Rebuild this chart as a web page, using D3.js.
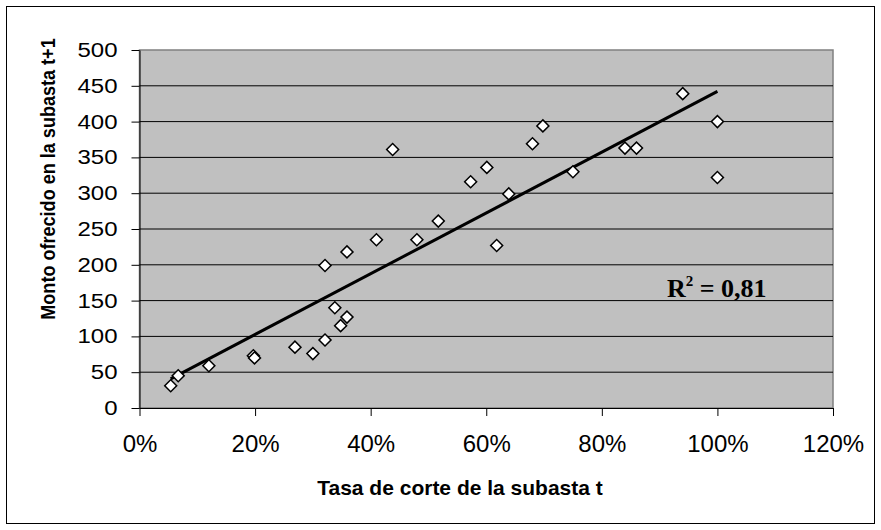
<!DOCTYPE html>
<html>
<head>
<meta charset="utf-8">
<script src="https://cdn.jsdelivr.net/npm/d3@7"></script>
<style>
  body { margin: 0; background: #fff; }
  text { font-family: Arial, "Liberation Sans", sans-serif; }
</style>
</head>
<body>
<svg id="chart" width="881" height="530"></svg>
<script>
// tasa de corte (t) vs monto ofrecido (t+1)
var tasa  = [0.054, 0.067, 0.12, 0.197, 0.199, 0.269, 0.30, 0.321, 0.348, 0.338, 0.359, 0.321, 0.359, 0.41, 0.438,
             0.48, 0.517, 0.573, 0.601, 0.618, 0.639, 0.68, 0.698, 0.75, 0.84, 0.86, 0.94, 1.0, 1.0];
var monto = [31, 45, 59, 73, 70, 85, 76, 95, 115, 140, 127, 199, 218, 235, 361,
             235, 261, 316, 336, 227, 299, 369, 394, 330, 363, 363, 439, 400, 322];
var xTicks = [0, 0.2, 0.4, 0.6, 0.8, 1.0, 1.2];
var yTicks = [0, 50, 100, 150, 200, 250, 300, 350, 400, 450, 500];
var r2Label = "0,81";

var data = tasa.map((t, i) => ({x: t, y: monto[i]}));

let svg = d3.select("#chart");

// outer frame
svg.append("rect")
  .attr("x", 6.5).attr("y", 6.5)
  .attr("width", 868).attr("height", 517)
  .attr("fill", "#fff")
  .attr("stroke", "#000")
  .attr("stroke-width", 1);

var xScale = d3.scaleLinear().domain([0, 1.2]).range([139.5, 833]);
var yScale = d3.scaleLinear().domain([0, 500]).range([408, 50]);

// plot area
svg.append("rect")
  .attr("x", xScale(0)).attr("y", yScale(500))
  .attr("width", xScale(1.2) - xScale(0))
  .attr("height", yScale(0) - yScale(500))
  .attr("fill", "#c0c0c0")
  .attr("stroke", "#808080")
  .attr("stroke-width", 1.5);

// gridlines
svg.append("g")
  .selectAll("line")
  .data(yTicks.filter(d => d > 0 && d < 500))
  .join("line")
  .attr("x1", xScale(0)).attr("x2", xScale(1.2))
  .attr("y1", d => yScale(d)).attr("y2", d => yScale(d))
  .attr("stroke", "#000")
  .attr("stroke-width", 1);

// axes
let xAxis = d3.axisBottom(xScale)
  .tickValues(xTicks)
  .tickFormat(d3.format(".0%"))
  .tickSizeInner(8).tickSizeOuter(0)
  .tickPadding(19);
let gx = svg.append("g")
  .attr("transform", `translate(0, ${yScale(0)})`)
  .call(xAxis);
gx.selectAll("text").style("font-size", "24px").attr("fill", "#000");
gx.selectAll("line, path").attr("stroke", "#000");

let yAxis = d3.axisLeft(yScale)
  .tickValues(yTicks)
  .tickSizeInner(8).tickSizeOuter(0)
  .tickPadding(14);
let gy = svg.append("g")
  .attr("transform", `translate(${xScale(0)}, 0)`)
  .call(yAxis);
gy.selectAll("text")
  .style("font-size", "24px")
  .attr("transform", "scale(1, 0.84)")
  .attr("fill", "#000");
gy.selectAll("line, path").attr("stroke", "#000");

// trend line (least squares)
var mx = d3.mean(tasa), my = d3.mean(monto);
var sxy = d3.sum(data, d => (d.x - mx) * (d.y - my));
var sxx = d3.sum(data, d => (d.x - mx) * (d.x - mx));
var slope = sxy / sxx, icpt = my - slope * mx;
var xr = d3.extent(tasa);

svg.append("line")
  .attr("x1", xScale(xr[0])).attr("y1", yScale(icpt + slope * xr[0]))
  .attr("x2", xScale(xr[1])).attr("y2", yScale(icpt + slope * xr[1]))
  .attr("stroke", "#000")
  .attr("stroke-width", 3);

// markers
var diamond = d3.symbol().type(d3.symbolSquare).size(72);
svg.append("g")
  .selectAll("path")
  .data(data)
  .join("path")
  .attr("d", diamond)
  .attr("transform", d => `translate(${xScale(d.x)}, ${yScale(d.y)}) rotate(45)`)
  .attr("fill", "#fff")
  .attr("stroke", "#000")
  .attr("stroke-width", 1.5);

// R^2 label
let r2 = svg.append("text")
  .attr("x", 667).attr("y", 297)
  .style("font-family", "'Times New Roman', 'Liberation Serif', serif")
  .style("font-weight", "bold")
  .style("font-size", "26px")
  .attr("fill", "#000");
r2.append("tspan").text("R");
r2.append("tspan").text("2").attr("dy", -11).style("font-size", "15px");
r2.append("tspan").text(" = " + r2Label).attr("dy", 11);

// axis titles
svg.append("text")
  .attr("x", 460).attr("y", 495)
  .style("text-anchor", "middle")
  .style("font-weight", "bold")
  .style("font-size", "21px")
  .attr("fill", "#000")
  .text("Tasa de corte de la subasta t");

svg.append("text")
  .attr("transform", "translate(55, 179) rotate(-90) scale(0.86, 1)")
  .style("text-anchor", "middle")
  .style("font-weight", "bold")
  .style("font-size", "21px")
  .attr("fill", "#000")
  .text("Monto ofrecido en la subasta t+1");
</script>
</body>
</html>
